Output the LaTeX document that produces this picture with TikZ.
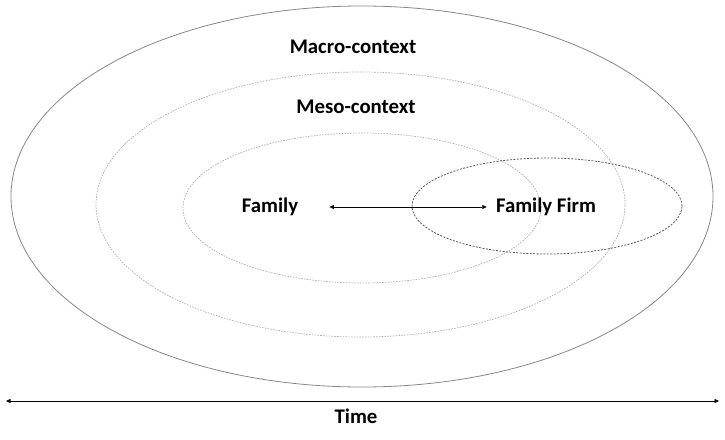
\documentclass[tikz,border=0pt]{standalone}
\usepackage{fontspec}
\setmainfont{Carlito}
\usetikzlibrary{arrows.meta}
\definecolor{ringgray}{RGB}{135,135,135}
\definecolor{lightring}{RGB}{175,175,175}
\definecolor{firmgray}{RGB}{90,90,90}
\begin{document}
\begin{tikzpicture}[x=1pt, y=-1pt, line width=0.6pt]

\tikzset{ label/.style={inner sep=0pt, font={\fontsize{20.8pt}{24pt}\selectfont\bfseries}},
  outerring/.style={draw=ringgray, line width=0.8pt},
  dotring/.style={draw=lightring, line width=0.7pt, dash pattern=on 1.6pt off 1.2pt},
  firmring/.style={draw=firmgray, line width=0.8pt, dash pattern=on 2pt off 1.4pt},
  twoway/.style={{Triangle[length=4.5pt,width=4pt]}-{Triangle[length=4.5pt,width=4pt]}, line width=0.6pt}
}

\useasboundingbox (0,0) rectangle (725,439);

% Contexts
\draw[outerring] (362,196.5) ellipse (351pt and 190.5pt);
\draw[dotring] (360.5,204.5) ellipse (264.5pt and 132.5pt);
\draw[dotring] (362,208) ellipse (179pt and 75pt);
\draw[firmring] (547,206) ellipse (135pt and 48pt);

\node[label] (macro) at (353,47) {Macro-context};
\node[label] (meso) at (356,107) {Meso-context};
\node[label] (family) at (270,207) {Family};
\node[label] (firm) at (546,207) {Family Firm};

\draw[twoway, shorten <=31pt, shorten >=9pt] (family.east) -- (firm.west);

% Time
\coordinate (tstart) at (6,401);
\coordinate (tend) at (719,401);
\draw[twoway] (tstart) -- (tend);
\node[label] (time) at (356,416) {Time};

\end{tikzpicture}
\end{document}
